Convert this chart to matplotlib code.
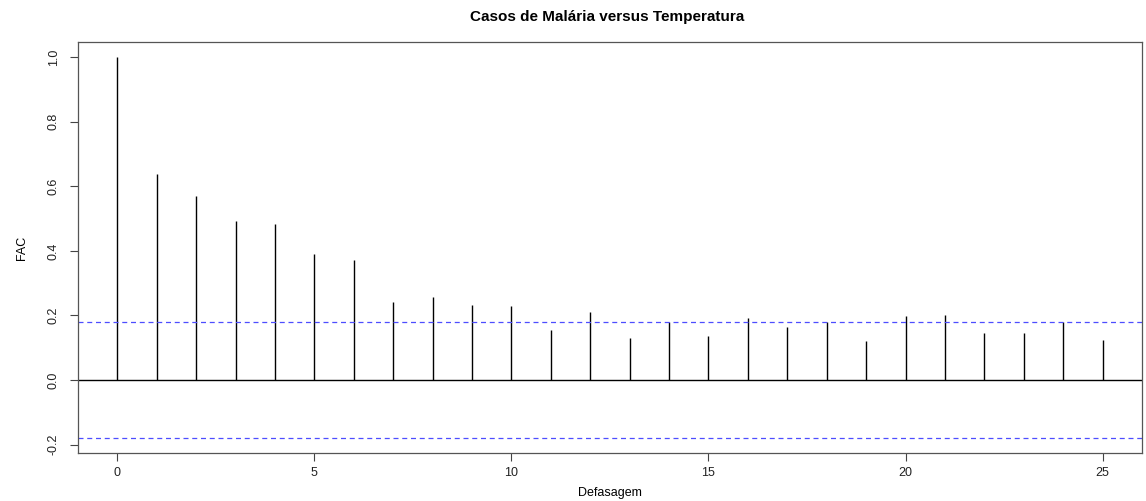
import matplotlib
matplotlib.use("Agg")
import matplotlib.pyplot as plt

plt.rcParams['font.family'] = ['Liberation Sans', 'DejaVu Sans']

lags = list(range(26))
acf_values = [1.000, 0.638, 0.571, 0.493, 0.484, 0.391, 0.372, 0.243, 0.257, 0.232,
              0.229, 0.156, 0.211, 0.130, 0.181, 0.135, 0.192, 0.164, 0.179, 0.121,
              0.199, 0.201, 0.147, 0.147, 0.180, 0.123]
ci_limit = 0.179
x_ticks = [0, 5, 10, 15, 20, 25]
y_ticks = [-0.2, 0.0, 0.2, 0.4, 0.6, 0.8, 1.0]

fig = plt.figure(figsize=(11.46, 5.01), dpi=100)
ax = fig.add_axes([0.068, 0.096, 0.9285, 0.820])

ax.vlines(lags, 0, acf_values, colors='black', linewidth=1.0)
ax.axhline(0, color='black', linewidth=1.0)
ax.axhline(ci_limit, color='#4d4dff', linestyle=(0, (4, 3)), linewidth=0.9)
ax.axhline(-ci_limit, color='#4d4dff', linestyle=(0, (4, 3)), linewidth=0.9)

ax.set_xlim(-1.0, 26.0)
ax.set_ylim(-0.226, 1.047)
ax.set_xticks(x_ticks)
ax.set_xticklabels([str(t) for t in x_ticks])
ax.set_yticks(y_ticks)
ax.set_yticklabels([f"{t:.1f}" for t in y_ticks], rotation=90, va='center')
ax.tick_params(axis='both', direction='out', length=6, width=0.8, labelsize=9,
               colors='#444444', labelcolor='#222222', pad=4)
ax.tick_params(axis='y', pad=7)
for s in ax.spines.values():
    s.set_color('#555555')
    s.set_linewidth(0.9)

ax.set_xlabel('Defasagem', fontsize=9)
ax.set_ylabel('FAC', fontsize=9)
ax.xaxis.set_label_coords(0.5, -0.082)
ax.yaxis.set_label_coords(-0.047, 0.5)
fig.text(0.53, 0.966, 'Casos de Malária versus Temperatura', fontsize=11,
         fontweight='bold', ha='center', va='center')

fig.savefig('out.png', dpi=100)
